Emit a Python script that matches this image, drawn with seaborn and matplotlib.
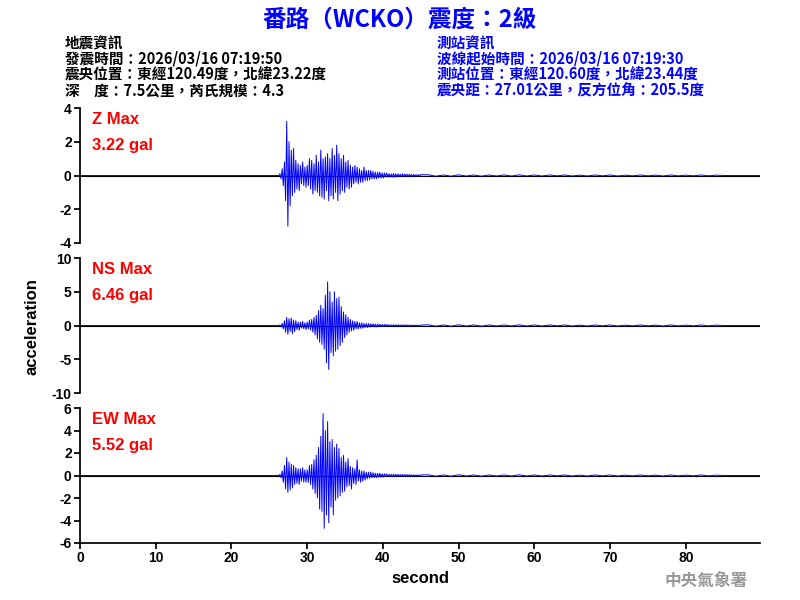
import numpy as np
import matplotlib
matplotlib.use("Agg")
import matplotlib.pyplot as plt
import seaborn as sns

sns.set_theme(style="white")
plt.rcParams['font.family'] = ['Noto Sans CJK TC', 'DejaVu Sans']
plt.rcParams['text.color'] = 'black'
plt.rcParams['axes.labelcolor'] = 'black'
plt.rcParams['xtick.color'] = 'black'
plt.rcParams['ytick.color'] = 'black'

STEP = 0.15
START = 26.4
z_vals = [0.1,-0.2,0.4,-0.6,0.8,
 -1.5,3.2,-3.0,2.0,-1.8,1.5,-1.2,1.6,-1.0,0.9,
 -0.8,0.7,-0.9,0.6,-0.5,0.8,-0.6,0.5,-0.7,0.6,
 -0.6,1.0,-0.8,0.9,-1.1,0.7,-0.9,1.2,-1.0,0.8,
 -1.2,1.5,-1.3,1.0,-1.4,1.1,-0.9,1.3,-1.5,1.0,
 -1.2,1.6,-1.4,1.2,-1.0,1.8,-1.5,1.3,-1.1,1.0,
 -0.9,1.2,-1.0,0.8,-0.7,0.9,-0.8,0.6,-0.7,0.5,
 -0.5,0.6,-0.4,0.5,-0.5,0.4,-0.4,0.3,-0.4,0.5,-0.3,0.3,-0.3,
 0.3,-0.25,0.3,-0.2,0.25,-0.2,0.2,-0.2,0.2,-0.15,0.2,-0.15,0.15,-0.15,0.15,-0.1,0.15,-0.1,0.1,-0.1,0.1,-0.1,0.12,-0.1,0.1,-0.08,0.1,-0.08,0.08,-0.08,0.1,-0.08,0.08,-0.06,0.08,-0.06,0.08,-0.06,0.06,-0.06,0.06,-0.05,0.05,-0.05,0.05,-0.05,0.05]
ns_vals = [0.1,-0.2,0.3,-0.5,0.7,
 -1.0,1.2,-1.3,1.0,-0.9,1.1,-1.2,0.8,-0.9,0.7,
 -0.6,0.5,-0.7,0.5,-0.4,0.6,-0.5,0.4,-0.6,0.5,
 -0.5,0.8,-0.7,0.9,-1.0,1.2,-1.4,1.5,-2.0,2.2,
 -2.5,3.0,-2.8,2.5,-3.5,4.5,-5.5,6.46,-6.5,5.0,
 -4.0,3.5,-4.5,5.0,-3.8,4.0,-3.5,4.2,-3.0,2.8,
 -2.5,2.0,-1.8,1.6,-1.4,1.2,-1.0,0.9,-0.8,0.7,
 -0.7,0.6,-0.5,0.6,-0.5,0.4,-0.4,0.4,-0.4,0.3,-0.3,0.3,-0.3,
 0.3,-0.25,0.25,-0.2,0.25,-0.2,0.2,-0.2,0.2,-0.15,0.2,-0.15,0.15,-0.15,0.15,-0.1,0.15,-0.1,0.1,-0.1,0.1,-0.1,0.12,-0.1,0.1,-0.08,0.1,-0.08,0.08,-0.08,0.1,-0.08,0.08,-0.06,0.08,-0.06,0.08,-0.06,0.06,-0.06,0.06,-0.05,0.05,-0.05,0.05,-0.05,0.05]
ew_vals = [0.1,-0.2,0.4,-0.6,0.9,
 -1.2,1.6,-1.5,1.2,-1.3,1.0,-1.1,0.9,-0.8,0.7,
 -0.7,0.6,-0.8,0.6,-0.5,0.7,-0.6,0.5,-0.6,0.5,
 -0.6,0.9,-0.8,1.0,-1.2,1.4,-1.6,1.8,-2.0,2.5,
 -3.0,3.5,-3.2,5.52,-4.7,4.0,-3.5,4.8,-4.2,3.0,
 -2.8,3.2,-3.5,2.5,-2.2,2.8,-2.0,2.4,-1.8,1.6,
 -1.5,1.8,-1.4,1.2,-1.0,1.5,-0.9,0.8,-1.2,0.7,
 -0.7,0.6,-0.8,1.4,-0.5,0.5,-0.6,0.4,-0.5,0.4,-0.4,0.3,-0.3,
 0.3,-0.25,0.3,-0.2,0.25,-0.2,0.2,-0.2,0.2,-0.15,0.2,-0.15,0.15,-0.15,0.15,-0.1,0.15,-0.1,0.1,-0.1,0.1,-0.1,0.12,-0.1,0.1,-0.08,0.1,-0.08,0.08,-0.08,0.1,-0.08,0.08,-0.06,0.08,-0.06,0.08,-0.06,0.06,-0.06,0.06,-0.05,0.05,-0.05,0.05,-0.05,0.05]
tail_vals = [0.04,-0.04,0.03,-0.04,0.04,-0.03,0.03,-0.04,0.03,-0.03,
 0.03,-0.03,0.04,-0.03,0.03,-0.03,0.03,-0.02,0.03,-0.03,
 0.02,-0.03,0.03,-0.02,0.03,-0.03,0.02,-0.02,0.03,-0.02,
 0.02,-0.03,0.03,-0.02,0.02,-0.02,0.03,-0.02,0.02,0.0]

channels = [("Z Max", "3.22 gal", z_vals, (-4, 4), [-4,-2,0,2,4], 1.0),
            ("NS Max", "6.46 gal", ns_vals, (-10, 10), [-10,-5,0,5,10], 2.5),
            ("EW Max", "5.52 gal", ew_vals, (-6, 6), [-6,-4,-2,0,2,4,6], 1.5)]

TF = "Liberation Sans"
fig = plt.figure(figsize=(8, 6), dpi=100)
fig.patch.set_facecolor("white")
rects = [(0.1, 0.595, 0.85, 0.225), (0.1, 0.345, 0.85, 0.225), (0.1, 0.095, 0.85, 0.225)]
for i, (name, mx, vals, ylim, ticks, sc) in enumerate(channels):
    ax = fig.add_axes(rects[i])
    t_main = START + STEP * np.arange(len(vals))
    t_tail = t_main[-1] + 1 + np.arange(len(tail_vals))
    t = np.concatenate([[0, START - 0.1], t_main, t_tail, [89.8]])
    v = np.concatenate([[0, 0], vals, np.array(tail_vals) * sc, [0]])
    ax.axhline(0, color="black", lw=0.8, zorder=1)
    sns.lineplot(x=t, y=v, ax=ax, color="blue", lw=0.7, zorder=2)
    ax.set_xlim(0, 89.8)
    ax.set_ylim(*ylim)
    ax.set_yticks(ticks)
    ax.set_yticklabels([str(k) for k in ticks], fontsize=10, fontweight="bold", family=TF)
    for s in ["top", "right"]:
        ax.spines[s].set_visible(False)
    ax.spines["left"].set_color("black")
    ax.tick_params(axis="y", left=True, length=4, color="black", pad=2)
    if i < 2:
        ax.spines["bottom"].set_visible(False)
        ax.set_xticks([])
    else:
        ax.spines["bottom"].set_color("black")
        ax.set_xticks(range(0, 90, 10))
        ax.set_xticklabels([str(k) for k in range(0, 90, 10)], fontsize=10, fontweight="bold", family=TF)
        ax.tick_params(axis="x", bottom=True, length=4, color="black", pad=2)
        ax.set_xlabel("second", fontsize=12, fontweight="bold", family=TF, color="black")
    ax.set_ylabel("")
    ax.text(0.018, 0.97, name, transform=ax.transAxes, color="red", fontsize=12, fontweight="bold", va="top", family=TF)
    ax.text(0.018, 0.78, mx, transform=ax.transAxes, color="red", fontsize=12, fontweight="bold", va="top", family=TF)

fig.text(0.04, 0.455, "acceleration", rotation=90, fontsize=12, fontweight="bold", va="center", ha="center", family=TF, color="black")
fig.text(0.5, 0.967, "番路（WCKO）震度：2級", color="blue", fontsize=17, fontweight="bold", ha="center", va="center")
left = ["地震資訊", "發震時間：2026/03/16 07:19:50", "震央位置：東經120.49度，北緯23.22度", "深　度：7.5公里，芮氏規模：4.3"]
right = ["測站資訊", "波線起始時間：2026/03/16 07:19:30", "測站位置：東經120.60度，北緯23.44度", "震央距：27.01公里，反方位角：205.5度"]
for k, (a, b) in enumerate(zip(left, right)):
    y = 1 - (43 + 16 * k) / 600
    fig.text(65 / 800, y, a, fontsize=10.5, fontweight="bold", color="black", va="center")
    fig.text(437 / 800, y, b, fontsize=10.5, fontweight="bold", color="blue", va="center")
fig.text(0.935, 0.032, "中央氣象署", color="#999999", fontsize=12, fontweight="bold", ha="right", va="center")
fig.savefig("out.png", dpi=100)
